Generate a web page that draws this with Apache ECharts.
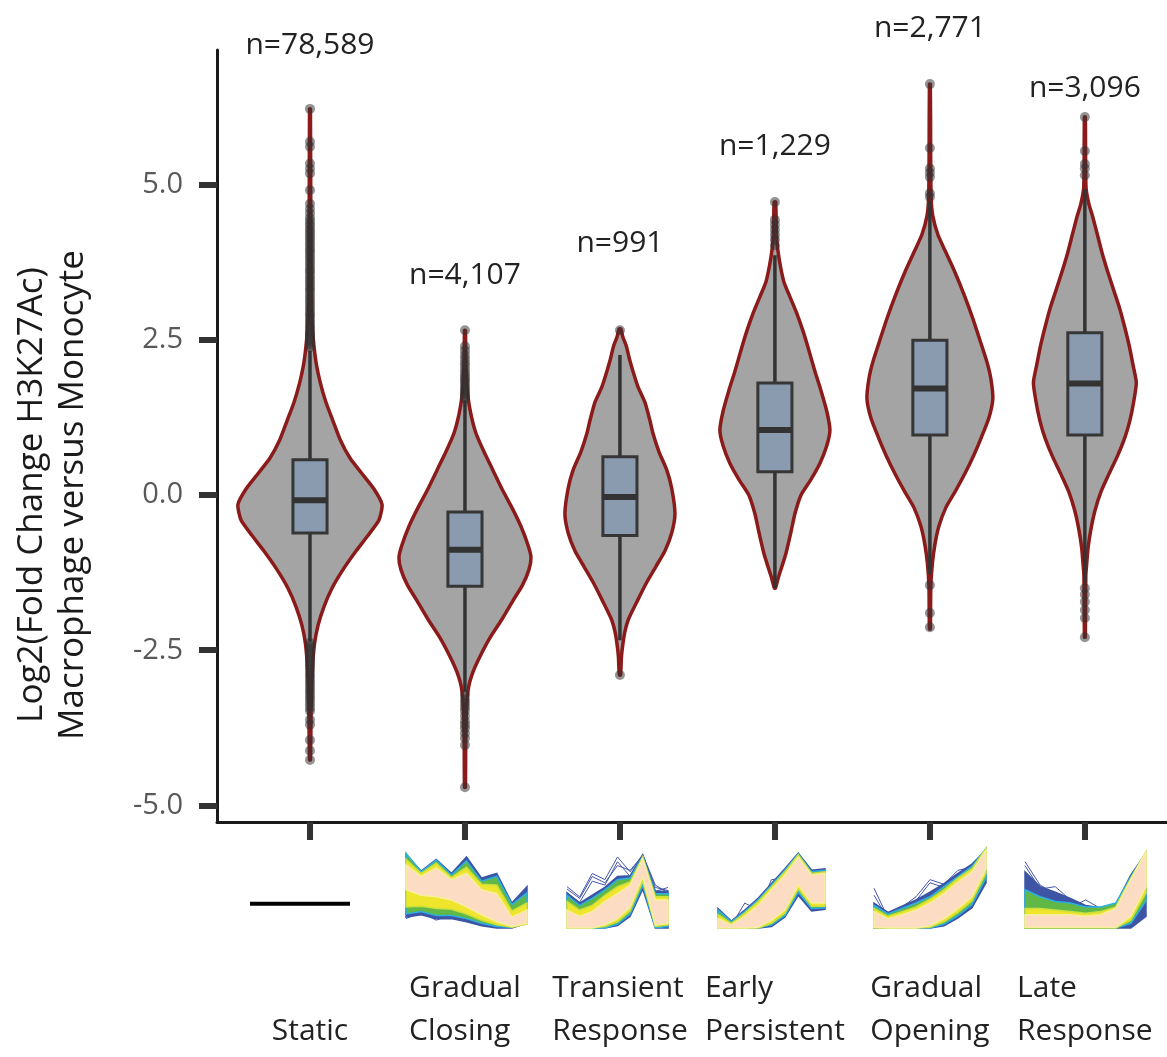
<!DOCTYPE html>
<html>
<head>
<meta charset="utf-8">
<script src="https://cdn.jsdelivr.net/npm/echarts@6/dist/echarts.min.js"></script>
<style>
  html, body { margin: 0; padding: 0; background: #ffffff; }
  #chart { width: 1167px; height: 1057px; }
</style>
</head>
<body>
<div id="chart"></div>
<script>
// ---- categories and annotations ----
const categories = ['Static', 'Gradual\nClosing', 'Transient\nResponse', 'Early\nPersistent', 'Gradual\nOpening', 'Late\nResponse'];
const countLabels = ['n=78,589', 'n=4,107', 'n=991', 'n=1,229', 'n=2,771', 'n=3,096'];
const countLabelY = [7.26, 3.55, 4.06, 5.63, 7.53, 6.56];
const yTicks = [-5, -2.5, 0, 2.5, 5];

// ---- box plot statistics (log2 fold change) ----
const boxQ3 = [0.57, -0.27, 0.62, 1.81, 2.50, 2.62];
const boxMedian = [-0.08, -0.88, -0.03, 1.05, 1.72, 1.80];
const boxQ1 = [-0.61, -1.47, -0.65, 0.38, 0.97, 0.97];
const whiskerHigh = [2.33, 1.53, 2.26, 3.87, 4.73, 4.94];
const whiskerLow = [-2.36, -3.17, -2.34, -1.50, -1.27, -1.41];

// ---- violin outlines: [value, half width in category units] ----
const violinStatic = [[6.23, 0.003], [4.5, 0.005], [3.2, 0.008], [2.7, 0.016], [2.4, 0.026], [2.1, 0.042], [1.8, 0.068], [1.5, 0.103], [1.2, 0.148], [0.9, 0.194], [0.6, 0.258], [0.35, 0.335], [0.1, 0.413], [-0.15, 0.465], [-0.4, 0.445], [-0.65, 0.374], [-0.9, 0.297], [-1.2, 0.213], [-1.5, 0.142], [-1.8, 0.09], [-2.1, 0.052], [-2.4, 0.029], [-2.8, 0.016], [-3.4, 0.008], [-4.27, 0.003]];
const violinClosing = [[2.66, 0.003], [2.1, 0.006], [1.6, 0.019], [1.3, 0.039], [1.0, 0.071], [0.7, 0.123], [0.4, 0.181], [0.1, 0.239], [-0.2, 0.303], [-0.5, 0.361], [-0.8, 0.406], [-1.0, 0.426], [-1.2, 0.413], [-1.45, 0.371], [-1.7, 0.31], [-2.0, 0.239], [-2.3, 0.161], [-2.6, 0.097], [-2.85, 0.052], [-3.1, 0.023], [-3.45, 0.01], [-4.0, 0.005], [-4.71, 0.003]];
const violinTransient = [[2.68, 0.006], [2.55, 0.019], [2.4, 0.042], [2.2, 0.061], [2.0, 0.084], [1.75, 0.116], [1.5, 0.161], [1.2, 0.194], [1.0, 0.213], [0.7, 0.252], [0.4, 0.303], [0.1, 0.335], [-0.3, 0.355], [-0.6, 0.335], [-0.9, 0.29], [-1.15, 0.232], [-1.4, 0.174], [-1.7, 0.113], [-2.0, 0.055], [-2.2, 0.032], [-2.4, 0.019], [-2.6, 0.01], [-2.9, 0.004]];
const violinEarly = [[4.73, 0.005], [4.2, 0.01], [3.95, 0.019], [3.7, 0.035], [3.44, 0.058], [3.2, 0.097], [2.94, 0.14], [2.65, 0.181], [2.39, 0.213], [2.0, 0.258], [1.69, 0.297], [1.35, 0.335], [1.05, 0.355], [0.8, 0.335], [0.51, 0.29], [0.25, 0.232], [0.0, 0.168], [-0.3, 0.129], [-0.6, 0.103], [-0.94, 0.071], [-1.15, 0.045], [-1.32, 0.023], [-1.5, 0.003]];
const violinOpening = [[6.63, 0.003], [5.5, 0.005], [4.8, 0.008], [4.5, 0.019], [4.2, 0.052], [3.95, 0.097], [3.6, 0.161], [3.2, 0.226], [2.85, 0.277], [2.5, 0.323], [2.15, 0.368], [1.87, 0.394], [1.55, 0.406], [1.25, 0.381], [0.95, 0.335], [0.65, 0.284], [0.35, 0.226], [0.05, 0.161], [-0.2, 0.103], [-0.5, 0.058], [-0.8, 0.032], [-1.1, 0.016], [-1.47, 0.006], [-2.16, 0.003]];
const violinLate = [[6.1, 0.003], [5.3, 0.005], [4.95, 0.008], [4.7, 0.026], [4.48, 0.052], [4.2, 0.081], [3.89, 0.113], [3.6, 0.148], [3.3, 0.187], [3.0, 0.226], [2.7, 0.258], [2.4, 0.287], [2.11, 0.31], [1.82, 0.332], [1.52, 0.316], [1.2, 0.29], [0.93, 0.258], [0.63, 0.21], [0.34, 0.155], [0.05, 0.103], [-0.25, 0.065], [-0.55, 0.039], [-0.84, 0.021], [-1.1, 0.012], [-1.3, 0.006], [-2.29, 0.003]];
const violins = [violinStatic, violinClosing, violinTransient, violinEarly, violinOpening, violinLate];

// ---- outlying regions ----
const outliersStatic = [6.23, 5.70, 5.62, 5.35, 5.27, 5.19, 4.92, 4.70, 4.62, 4.55, 4.48, 4.43, 4.38, 4.34, 4.29, 4.25, 4.21, 4.16, 4.12, 4.07, 4.03, 3.98, 3.94, 3.90, 3.85, 3.81, 3.76, 3.72, 3.67, 3.63, 3.59, 3.54, 3.50, 3.45, 3.41, 3.36, 3.32, 3.28, 3.23, 3.19, 3.14, 3.10, 3.05, 3.01, 2.96, 2.92, 2.88, 2.83, 2.79, 2.74, 2.70, 2.65, 2.61, 2.57, 2.52, 2.48, 2.43, 2.39,
  -2.38, -2.43, -2.47, -2.52, -2.57, -2.62, -2.67, -2.72, -2.77, -2.82, -2.87, -2.92, -2.97, -3.02, -3.07, -3.12, -3.17, -3.22, -3.27, -3.32, -3.37, -3.43, -3.48, -3.62, -3.70, -3.95, -4.12, -4.27];
const outliersClosing = [2.66, 2.40, 2.33, 2.26, 2.20, 2.14, 2.09, 2.03, 1.98, 1.93, 1.89, 1.85, 1.81, 1.76, 1.72, 1.68, 1.64, 1.60, 1.56,
  -3.22, -3.30, -3.36, -3.42, -3.48, -3.56, -3.64, -3.70, -3.76, -3.84, -3.92, -4.03, -4.71];
const outliersTransient = [2.66, -2.90];
const outliersEarly = [4.73, 4.44, 4.36, 4.28, 4.20, 4.12, 4.03];
const outliersOpening = [6.63, 5.60, 5.27, 5.20, 5.13, 4.87, 4.81, -1.45, -1.90, -2.13];
const outliersLate = [6.10, 5.55, 5.34, 5.27, 5.16, -1.50, -1.60, -1.72, -1.85, -1.98, -2.29];
const outliers = [outliersStatic, outliersClosing, outliersTransient, outliersEarly, outliersOpening, outliersLate];

// ---- cluster profile insets: 9 time points, scaled 0..1 ----
// each band is [upper, lower], ordered from the outer (low membership) band to the core
const staticProfile = [0.31, 0.31, 0.31, 0.31, 0.31, 0.31, 0.31, 0.31, 0.31];
const closingBands = [
  [[0.94, 0.73, 0.88, 0.70, 0.91, 0.64, 0.70, 0.32, 0.53], [0.14, 0.17, 0.12, 0.12, 0.08, 0.03, 0.00, 0.00, 0.06]],
  [[0.96, 0.72, 0.87, 0.68, 0.86, 0.60, 0.66, 0.30, 0.45], [0.18, 0.21, 0.16, 0.16, 0.12, 0.06, 0.02, 0.01, 0.08]],
  [[0.88, 0.70, 0.83, 0.65, 0.78, 0.56, 0.55, 0.22, 0.32], [0.27, 0.28, 0.25, 0.24, 0.18, 0.10, 0.04, 0.01, 0.05]],
  [[0.81, 0.66, 0.77, 0.62, 0.70, 0.49, 0.44, 0.14, 0.23], [0.49, 0.42, 0.40, 0.36, 0.27, 0.17, 0.08, 0.02, 0.06]]
];
const transientBands = [
  [[0.45, 0.32, 0.42, 0.52, 0.66, 0.67, 0.94, 0.47, 0.47], [0.00, 0.00, 0.00, 0.00, 0.03, 0.15, 0.50, 0.00, 0.00]],
  [[0.42, 0.29, 0.38, 0.49, 0.62, 0.64, 0.92, 0.44, 0.44], [0.00, 0.00, 0.00, 0.00, 0.05, 0.18, 0.55, 0.00, 0.02]],
  [[0.34, 0.23, 0.29, 0.42, 0.53, 0.59, 0.91, 0.40, 0.40], [0.00, 0.00, 0.00, 0.02, 0.08, 0.22, 0.60, 0.02, 0.04]],
  [[0.23, 0.15, 0.21, 0.34, 0.44, 0.55, 0.89, 0.36, 0.36], [0.00, 0.00, 0.00, 0.04, 0.12, 0.27, 0.66, 0.04, 0.06]]
];
const earlyBands = [
  [[0.25, 0.09, 0.23, 0.38, 0.57, 0.76, 0.96, 0.74, 0.76], [0.00, 0.00, 0.00, 0.00, 0.02, 0.14, 0.42, 0.22, 0.24]],
  [[0.23, 0.08, 0.21, 0.36, 0.55, 0.74, 0.95, 0.72, 0.74], [0.00, 0.00, 0.00, 0.00, 0.04, 0.16, 0.46, 0.25, 0.26]],
  [[0.17, 0.06, 0.19, 0.34, 0.53, 0.72, 0.94, 0.70, 0.72], [0.00, 0.00, 0.00, 0.00, 0.06, 0.19, 0.50, 0.28, 0.28]],
  [[0.12, 0.04, 0.15, 0.29, 0.49, 0.68, 0.91, 0.68, 0.70], [0.00, 0.00, 0.00, 0.01, 0.10, 0.23, 0.55, 0.32, 0.32]]
];
const openingBands = [
  [[0.32, 0.20, 0.28, 0.36, 0.46, 0.57, 0.70, 0.82, 1.00], [0.00, 0.00, 0.00, 0.00, 0.00, 0.03, 0.13, 0.26, 0.58]],
  [[0.29, 0.18, 0.25, 0.32, 0.40, 0.53, 0.66, 0.79, 1.02], [0.00, 0.00, 0.00, 0.00, 0.00, 0.05, 0.16, 0.30, 0.64]],
  [[0.25, 0.15, 0.21, 0.27, 0.37, 0.49, 0.64, 0.76, 1.02], [0.00, 0.00, 0.00, 0.00, 0.01, 0.08, 0.20, 0.35, 0.70]],
  [[0.21, 0.12, 0.17, 0.23, 0.32, 0.44, 0.59, 0.72, 1.00], [0.01, 0.00, 0.00, 0.00, 0.03, 0.12, 0.25, 0.40, 0.76]]
];
const lateBands = [
  [[0.72, 0.53, 0.46, 0.38, 0.29, 0.26, 0.30, 0.68, 0.96], [0.00, 0.00, 0.00, 0.00, 0.00, 0.00, 0.00, 0.00, 0.15]],
  [[0.49, 0.40, 0.34, 0.32, 0.27, 0.27, 0.32, 0.66, 0.97], [0.00, 0.00, 0.00, 0.00, 0.00, 0.00, 0.00, 0.06, 0.35]],
  [[0.25, 0.25, 0.23, 0.21, 0.19, 0.21, 0.27, 0.64, 0.98], [0.00, 0.00, 0.00, 0.00, 0.00, 0.00, 0.00, 0.10, 0.45]],
  [[0.17, 0.17, 0.17, 0.17, 0.15, 0.17, 0.25, 0.62, 0.98], [0.01, 0.01, 0.01, 0.01, 0.01, 0.01, 0.01, 0.15, 0.53]]
];
// individual member traces that stray from the cluster core
const closingStray = [[0.12, 0.20, 0.10, 0.17, 0.12, 0.07, 0.03, 0.01, 0.25]];
const transientStray = [[0.53, 0.40, 0.70, 0.62, 0.91, 0.72, 0.94, 0.55, 0.45], [0.45, 0.33, 0.60, 0.55, 0.85, 0.66, 0.90, 0.47, 0.52], [0.50, 0.38, 0.66, 0.58, 0.80, 0.74, 0.93, 0.52, 0.48]];
const earlyStray = [[0.20, 0.03, 0.32, 0.23, 0.62, 0.64, 0.44, 0.49, 0.72]];
const openingStray = [[0.51, 0.13, 0.27, 0.40, 0.62, 0.56, 0.74, 0.78, 0.90], [0.42, 0.12, 0.25, 0.35, 0.58, 0.52, 0.60, 0.76, 0.88]];
const lateStray = [[0.85, 0.55, 0.44, 0.36, 0.28, 0.26, 0.28, 0.60, 0.90], [0.80, 0.50, 0.53, 0.36, 0.28, 0.26, 0.28, 0.62, 0.92], [0.38, 0.37, 0.33, 0.26, 0.36, 0.25, 0.27, 0.62, 0.94]];

const insetBands = [null, closingBands, transientBands, earlyBands, openingBands, lateBands];
const insetStray = [null, closingStray, transientStray, earlyStray, openingStray, lateStray];

// ---- layout & style ----
const FONT = '"Open Sans", "Noto Sans", sans-serif';
const insetBoxes = [
  { left: 250, width: 100 }, { left: 406, width: 121 }, { left: 567, width: 101 },
  { left: 718, width: 107 }, { left: 874, width: 112 }, { left: 1025, width: 121 }
];
const bandFill = ['#3e55a6', '#62b847', '#efe52c', '#fcdcc3'];
const bandEdge = ['#3e55a6', '#2cb1df', '#c9df3c', '#f7ee9e'];
const boxHalf = 0.11;

const chart = echarts.init(document.getElementById('chart'));

function violinItem(params, api) {
  const i = params.dataIndex, cx = i + 1;
  const prof = violins[i];
  const right = prof.map(([v, w]) => api.coord([cx + w, v]));
  const left = prof.slice().reverse().map(([v, w]) => api.coord([cx - w, v]));
  return {
    type: 'polygon',
    shape: { points: right.concat(left), smooth: 0.2 },
    style: { fill: '#a4a4a4', stroke: '#8b1a1a', lineWidth: 3.5 }
  };
}

function boxItem(params, api) {
  const i = params.dataIndex, cx = i + 1;
  const top = api.coord([cx, whiskerHigh[i]]);
  const bot = api.coord([cx, whiskerLow[i]]);
  const tl = api.coord([cx - boxHalf, boxQ3[i]]);
  const br = api.coord([cx + boxHalf, boxQ1[i]]);
  const ml = api.coord([cx - boxHalf, boxMedian[i]]);
  const mr = api.coord([cx + boxHalf, boxMedian[i]]);
  return {
    type: 'group',
    children: [
      { type: 'line', shape: { x1: top[0], y1: top[1], x2: bot[0], y2: bot[1] }, style: { stroke: '#333333', lineWidth: 3.5 } },
      { type: 'rect', shape: { x: tl[0], y: tl[1], width: br[0] - tl[0], height: br[1] - tl[1] }, style: { fill: '#8a9bb0', stroke: '#363636', lineWidth: 3 } },
      { type: 'line', shape: { x1: ml[0], y1: ml[1], x2: mr[0], y2: mr[1] }, style: { stroke: '#333333', lineWidth: 6 } }
    ]
  };
}

function countItem(params, api) {
  const i = params.dataIndex;
  const p = api.coord([i + 1, countLabelY[i]]);
  return {
    type: 'text', x: p[0], y: p[1],
    style: { text: countLabels[i], fontFamily: FONT, fontSize: 30, fill: '#222222', align: 'center', verticalAlign: 'middle' }
  };
}

function categoryLabel(v) {
  const name = categories[Math.round(v) - 1] || '';
  const lines = name.split('\n');
  if (lines.length === 1) lines.unshift('\u00a0');
  return lines.map(l => '{c|' + l + '}').join('\n');
}

const grids = [{ left: 217, right: 0, top: 50, bottom: 235 }];
const xAxes = [{
  type: 'value', min: 0.4, max: 6.53, gridIndex: 0,
  axisLine: { show: true, onZero: false, lineStyle: { color: '#1a1a1a', width: 3 } },
  axisTick: { show: true, customValues: [1, 2, 3, 4, 5, 6], length: 18, lineStyle: { color: '#333333', width: 6 } },
  axisLabel: {
    customValues: [1, 2, 3, 4, 5, 6], margin: 145, formatter: categoryLabel,
    rich: { c: { align: 'left', fontFamily: FONT, fontSize: 30, lineHeight: 43, color: '#222222' } }
  },
  splitLine: { show: false }
}];
const yAxes = [{
  type: 'value', min: -5.27, max: 7.18, gridIndex: 0,
  axisLine: { show: true, onZero: false, lineStyle: { color: '#1a1a1a', width: 3 } },
  axisTick: { show: true, customValues: yTicks, length: 18, lineStyle: { color: '#333333', width: 6 } },
  axisLabel: { customValues: yTicks, formatter: v => v.toFixed(1), margin: 34, fontFamily: FONT, fontSize: 29, color: '#595959' },
  splitLine: { show: false }
}];

const series = [
  { type: 'custom', xAxisIndex: 0, yAxisIndex: 0, renderItem: violinItem, data: categories.map((c, i) => [i + 1, boxMedian[i]]), encode: { x: 0, y: 1 }, z: 1, silent: true },
  { type: 'custom', xAxisIndex: 0, yAxisIndex: 0, renderItem: boxItem, data: categories.map((c, i) => [i + 1, boxMedian[i]]), encode: { x: 0, y: 1 }, z: 2, silent: true },
  {
    type: 'scatter', xAxisIndex: 0, yAxisIndex: 0, z: 3, silent: true, symbolSize: 10,
    itemStyle: { color: 'rgba(50,50,50,0.65)' },
    data: outliers.flatMap((arr, i) => arr.map(v => [i + 1, v]))
  },
  { type: 'custom', xAxisIndex: 0, yAxisIndex: 0, renderItem: countItem, data: categories.map((c, i) => [i + 1, countLabelY[i]]), encode: { x: 0, y: 1 }, z: 4, silent: true }
];

// cluster profile insets below the axis
insetBoxes.forEach((box, k) => {
  const gi = k + 1;
  grids.push({ left: box.left, width: box.width, top: 850, height: 78 });
  xAxes.push({ type: 'value', gridIndex: gi, min: 0, max: 8, show: false });
  yAxes.push({ type: 'value', gridIndex: gi, min: 0, max: 1, show: false });
  if (k === 0) {
    series.push({
      type: 'line', xAxisIndex: gi, yAxisIndex: gi, silent: true, showSymbol: false,
      lineStyle: { color: '#000000', width: 4 },
      data: staticProfile.map((v, t) => [t, v])
    });
    return;
  }
  const bands = insetBands[k];
  series.push({
    type: 'custom', xAxisIndex: gi, yAxisIndex: gi, silent: true,
    data: bands.map((b, j) => [j, 0]), encode: { x: 0, y: 1 },
    renderItem: (params, api) => {
      const j = params.dataIndex;
      const [hi, lo] = bands[j];
      const pts = hi.map((v, t) => api.coord([t, v])).concat(lo.map((v, t) => api.coord([t, v])).reverse());
      return { type: 'polygon', shape: { points: pts }, style: { fill: bandFill[j], stroke: bandEdge[j], lineWidth: 1.5 } };
    }
  });
  insetStray[k].forEach(tr => {
    series.push({
      type: 'line', xAxisIndex: gi, yAxisIndex: gi, silent: true, showSymbol: false, z: 1,
      lineStyle: { color: '#4457ad', width: 1 },
      data: tr.map((v, t) => [t, v])
    });
  });
});

chart.setOption({
  animation: false,
  backgroundColor: '#ffffff',
  grid: grids,
  xAxis: xAxes,
  yAxis: yAxes,
  graphic: [
    { type: 'text', x: 32, y: 495, rotation: Math.PI / 2, style: { text: 'Log2(Fold Change H3K27Ac)', fontFamily: FONT, fontSize: 35, fill: '#1a1a1a', align: 'center', verticalAlign: 'middle' } },
    { type: 'text', x: 73, y: 495, rotation: Math.PI / 2, style: { text: 'Macrophage versus Monocyte', fontFamily: FONT, fontSize: 35, fill: '#1a1a1a', align: 'center', verticalAlign: 'middle' } }
  ],
  series: series
});
</script>
</body>
</html>
